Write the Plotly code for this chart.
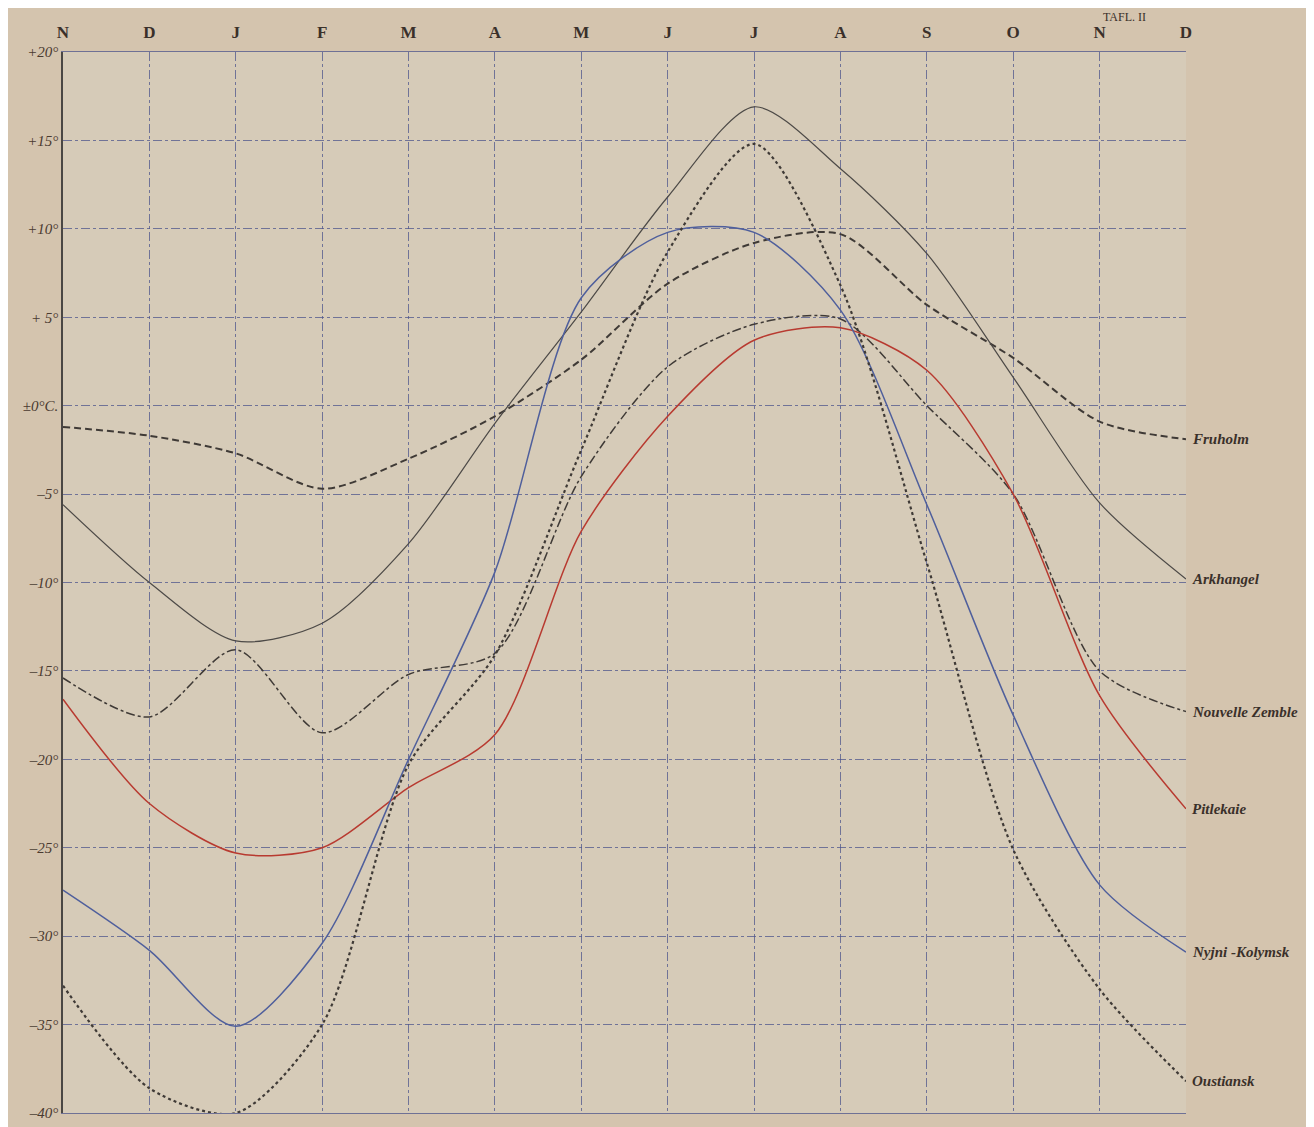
import plotly.graph_objects as go

# monthly mean temperatures (deg C), Nov .. Dec of the following year
months = ["N", "D", "J", "F", "M", "A", "M", "J", "J", "A", "S", "O", "N", "D"]

fruholm = [-1.2, -1.7, -2.7, -4.7, -3.0, -0.6, 2.6, 6.9, 9.2, 9.7, 5.7, 2.7, -0.9, -1.9]
arkhangel = [-5.6, -10.0, -13.3, -12.3, -7.8, -1.0, 5.3, 11.8, 16.9, 13.4, 8.6, 1.6, -5.5, -9.8]
nouvelle_zemble = [-15.4, -17.6, -13.8, -18.5, -15.2, -14.0, -4.0, 2.2, 4.6, 4.9, 0.0, -5.0, -15.0, -17.3]
pitlekaie = [-16.6, -22.5, -25.3, -25.0, -21.6, -18.6, -7.1, -0.6, 3.7, 4.4, 2.0, -5.0, -16.4, -22.8]
nyjni_kolymsk = [-27.4, -30.8, -35.1, -30.4, -20.0, -9.4, 6.1, 9.8, 9.8, 5.4, -5.6, -17.5, -27.1, -30.9]
oustiansk = [-32.8, -38.6, -40.0, -35.0, -20.3, -14.1, -2.5, 8.7, 14.8, 6.8, -8.9, -25.1, -33.0, -38.2]

y_ticks = [20, 15, 10, 5, 0, -5, -10, -15, -20, -25, -30, -35, -40]
y_labels = ["+20°", "+15°", "+10°", "+ 5°", "±0°C.", "–5°", "–10°", "–15°",
            "–20°", "–25°", "–30°", "–35°", "–40°"]

x = list(range(len(months)))

ink = "#3f3a36"
series = [
    ("Fruholm", fruholm, dict(color=ink, width=2, dash="7px,4px")),
    ("Arkhangel", arkhangel, dict(color="#4d4a47", width=1.2)),
    ("Nouvelle Zemble", nouvelle_zemble, dict(color=ink, width=1.5, dash="dashdot")),
    ("Pitlekaie", pitlekaie, dict(color="#b83a30", width=1.5)),
    ("Nyjni -Kolymsk", nyjni_kolymsk, dict(color="#4f5f9c", width=1.5)),
    ("Oustiansk", oustiansk, dict(color=ink, width=2.2, dash="dot")),
]

fig = go.Figure()
for name, vals, style in series:
    fig.add_trace(go.Scatter(
        x=x, y=vals, mode="lines", name=name,
        line=dict(shape="spline", smoothing=0.8, **style),
        showlegend=False,
    ))
    fig.add_annotation(
        x=x[-1], y=vals[-1], text=f"<b><i>{name}</i></b>",
        xanchor="left", yanchor="middle", xshift=4, showarrow=False,
        font=dict(family="Liberation Serif", size=15, color="#3a302a"),
    )

fig.add_annotation(
    xref="paper", yref="paper", x=0.945, y=1.0, yshift=44,
    text="TAFL. II", showarrow=False, xanchor="center", yanchor="top",
    font=dict(family="Liberation Serif", size=12, color="#3a302a"),
)

grid = "rgba(78, 86, 140, 0.75)"
fig.update_layout(
    width=1314, height=1127,
    paper_bgcolor="#d4c4ae",
    plot_bgcolor="#d6cbb8",
    margin=dict(l=55, r=136, t=44, b=22),
    xaxis=dict(
        range=[0, 13], side="top",
        tickmode="array", tickvals=x, ticktext=[f"<b>{m}</b>" for m in months],
        tickfont=dict(family="Liberation Serif", size=17, color="#3a302a"),
        ticklabelstandoff=6,
        showgrid=True, gridcolor=grid, gridwidth=1, griddash="dashdot",
        zeroline=False, showline=True, linecolor=grid, mirror=True,
        ticks="",
    ),
    yaxis=dict(
        range=[-40, 20],
        tickmode="array", tickvals=y_ticks, ticktext=[f"<i>{t}</i>" for t in y_labels],
        tickfont=dict(family="Liberation Serif", size=15, color="#4a3a30"),
        showgrid=True, gridcolor=grid, gridwidth=1, griddash="dashdot",
        zeroline=False, showline=True, linecolor="#4a4744", linewidth=1.5,
        ticks="",
    ),
)

fig.write_html("out.html")
